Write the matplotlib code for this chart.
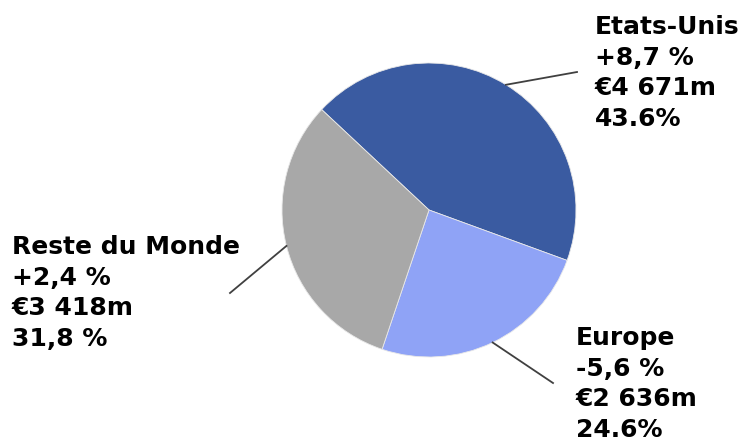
import matplotlib.pyplot as plt
import numpy as np

# Répartition du chiffre d'affaires par zone
zones = ["Etats-Unis", "Europe", "Reste du Monde"]
parts = [43.6, 24.6, 31.8]
variations = ["+8,7 %", "-5,6 %", "+2,4 %"]
ventes = ["€4 671m", "€2 636m", "€3 418m"]
parts_txt = ["43.6%", "24.6%", "31,8 %"]
couleurs = ["#3A5BA1", "#8FA3F6", "#A8A8A8"]

W, H = 750, 441
fig = plt.figure(figsize=(7.5, 4.41), dpi=100)
ax = fig.add_axes([0, 0, 1, 1])

cx, cy, r = 429, H - 210, 147
wedges, _ = ax.pie(parts, colors=couleurs, startangle=136.9, counterclock=False,
                   center=(cx, cy), radius=r, frame=True,
                   wedgeprops=dict(edgecolor="#e8e8e8", linewidth=0.6))
ax.set_xlim(0, W)
ax.set_ylim(0, H)
ax.set_aspect("equal")
ax.axis("off")

# position du texte (coin haut-gauche, px) et bout du trait
pos_txt = [(595, 15), (576, 326), (12, 235)]
bout_trait = [(577, 72), (553, 383), (230, 293)]

for w, nom, v, m, p, (tx, ty), (lx, ly) in zip(wedges, zones, variations, ventes,
                                               parts_txt, pos_txt, bout_trait):
    a = np.deg2rad((w.theta1 + w.theta2) / 2)
    x0, y0 = cx + r * np.cos(a), cy + r * np.sin(a)
    ax.plot([x0, lx], [y0, H - ly], color="#404040", lw=1.3)
    ax.text(tx, H - ty, f"{nom}\n{v}\n{m}\n{p}", ha="left", va="top",
            fontsize=18, fontweight="bold", linespacing=1.35,
            family="DejaVu Sans")

fig.savefig("out.png", dpi=100)
